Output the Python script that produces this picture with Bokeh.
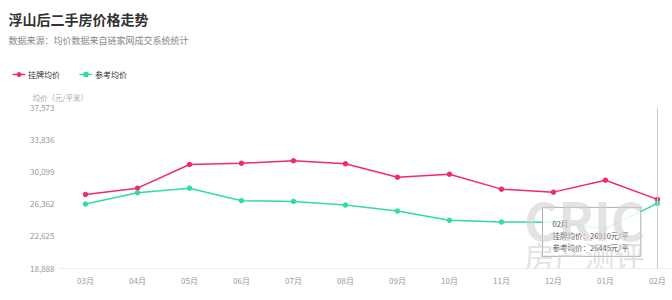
from bokeh.plotting import figure
from bokeh.layouts import column
from bokeh.models import (Range1d, FixedTicker, NumeralTickFormatter, Label, Legend, LegendItem,
                          BoxAnnotation, Span)
from bokeh.embed import file_html
from bokeh.resources import INLINE

months = ["03月", "04月", "05月", "06月", "07月", "08月", "09月", "10月", "11月", "12月", "01月", "02月"]
listing_price = [27485, 28213, 30955, 31106, 31384, 31037, 29486, 29833, 28098, 27751, 29139, 26910]
reference_price = [26362, 27681, 28213, 26756, 26675, 26247, 25552, 24476, 24280, 24250, 23500, 26445]
y_ticks = [18888, 22625, 26362, 30099, 33836, 37573]

RED = "#f0286c"
GREEN = "#2fdca4"
FONT = "Noto Sans CJK SC"

W = 672
HEAD_H = 102
MAIN_H = 300 - HEAD_H
LEFT = 59
FRAME_TOP = 107 - HEAD_H
FRAME_BOTTOM = 268 - HEAD_H

# ---------------- header (title, subtitle, legend, y-axis name) ----------------
h = figure(width=W, height=HEAD_H, output_backend="svg", toolbar_location=None,
           x_axis_type=None, y_axis_type=None,
           x_range=Range1d(0, W), y_range=Range1d(0, HEAD_H),
           min_border=0, min_border_left=0, min_border_right=0, min_border_top=0, min_border_bottom=0)
h.grid.visible = False
h.outline_line_color = None
h.background_fill_color = "white"
h.border_fill_color = "white"

aligned = True
try:
    h.frame_align = False
    aligned = False
except Exception:
    pass

X_OFF = LEFT if aligned else 0


def hlab(text, cx, cy, size, color, style="normal"):
    h.add_layout(Label(x=cx - X_OFF, y=HEAD_H - cy, x_units="screen", y_units="screen",
                       text=text, text_font=FONT, text_font_size=size, text_color=color,
                       text_font_style=style, text_align="left", text_baseline="middle"))


hlab("浮山后二手房价格走势", 8, 18, "14px", "#333333", style="bold")
hlab("数据来源：均价数据来自链家网成交系统统计", 8, 40, "9px", "#888888")
hlab("均价（元/平米）", 32, 97, "7.5px", "#aaaaaa")

nan = [float("nan")]
hl_r = h.line(nan, nan, line_color=RED, line_width=1.5)
hs_r = h.scatter(nan, nan, size=5, color=RED)
hl_g = h.line(nan, nan, line_color=GREEN, line_width=1.5)
hs_g = h.scatter(nan, nan, size=5, marker="square", color=GREEN)
legend = Legend(items=[LegendItem(label="挂牌均价", renderers=[hl_r, hs_r]),
                       LegendItem(label="参考均价", renderers=[hl_g, hs_g])],
                orientation="horizontal", location=(12 - X_OFF, HEAD_H - 80),
                padding=0, margin=0, spacing=19, glyph_width=13, glyph_height=10,
                label_standoff=3, label_text_font=FONT, label_text_font_size="8px",
                label_text_color="#333333", border_line_color=None,
                background_fill_alpha=0, label_height=12)
h.add_layout(legend, "center")

# ---------------- main chart ----------------
p = figure(width=W, height=MAIN_H, output_backend="svg", toolbar_location=None,
           x_range=Range1d(-0.5, 11.29), y_range=Range1d(y_ticks[0], y_ticks[-1]),
           min_border_left=LEFT, min_border_right=0, min_border_top=FRAME_TOP,
           min_border_bottom=MAIN_H - FRAME_BOTTOM)
p.outline_line_color = None
p.xgrid.visible = False
p.ygrid.visible = False
p.background_fill_color = "white"
p.border_fill_color = "white"
if not aligned:
    p.frame_align = False

idx = list(range(len(months)))

p.xaxis.ticker = FixedTicker(ticks=idx)
p.xaxis.major_label_overrides = {i: m for i, m in zip(idx, months)}
p.xaxis.axis_line_color = "#eeeeee"
p.xaxis.major_tick_line_color = None
p.xaxis.minor_tick_line_color = None
p.xaxis.major_tick_out = 0
p.xaxis.major_label_standoff = 6
p.xaxis.major_label_text_font = FONT
p.xaxis.major_label_text_font_size = "8px"
p.xaxis.major_label_text_color = "#999999"

p.yaxis.ticker = FixedTicker(ticks=y_ticks)
p.yaxis.formatter = NumeralTickFormatter(format="0,0")
p.yaxis.axis_line_color = None
p.yaxis.major_tick_line_color = None
p.yaxis.minor_tick_line_color = None
p.yaxis.major_tick_out = 0
p.yaxis.major_label_standoff = 5
p.yaxis.major_label_text_font = FONT
p.yaxis.major_label_text_font_size = "8px"
p.yaxis.major_label_text_color = "#999999"

p.line(idx, listing_price, line_color=RED, line_width=1.5)
p.scatter(idx, listing_price, size=4.5, color=RED)
p.line(idx, reference_price, line_color=GREEN, line_width=1.5)
p.scatter(idx, reference_price, size=4.5, color=GREEN)


def lab(text, cx, cy, size, color, style="normal", align="left", alpha=1.0):
    # cx, cy: canvas pixels of the whole page
    p.add_layout(Label(x=cx - LEFT, y=FRAME_BOTTOM - (cy - HEAD_H), x_units="screen", y_units="screen",
                       text=text, text_font=FONT, text_font_size=size, text_color=color,
                       text_font_style=style, text_align=align, text_baseline="middle",
                       text_alpha=alpha))


last = len(months) - 1
p.add_layout(Span(location=last, dimension="height", line_color="#cccccc", line_width=1))

p.add_layout(BoxAnnotation(left=last - 2.21, right=last - 0.32, top=25980, bottom=20300,
                           fill_color="white", fill_alpha=0.85, line_color="#999999",
                           line_width=1, line_alpha=0.8))
lab(months[last], 552, 223, "7.5px", "#555555")
lab(f"挂牌均价：{listing_price[last]}元/平", 552, 235, "7.5px", "#555555")
lab(f"参考均价：{reference_price[last]}元/平", 552, 247, "7.5px", "#555555")

# watermark
lab("CRIC", 584, 218, "52px", "#d0d0d0", style="bold", align="center", alpha=0.6)
lab("房产测评", 584, 254, "30px", "#d0d0d0", align="center", alpha=0.6)

layout = column(h, p, spacing=0)
open("out.html", "w").write(file_html(layout, INLINE))
